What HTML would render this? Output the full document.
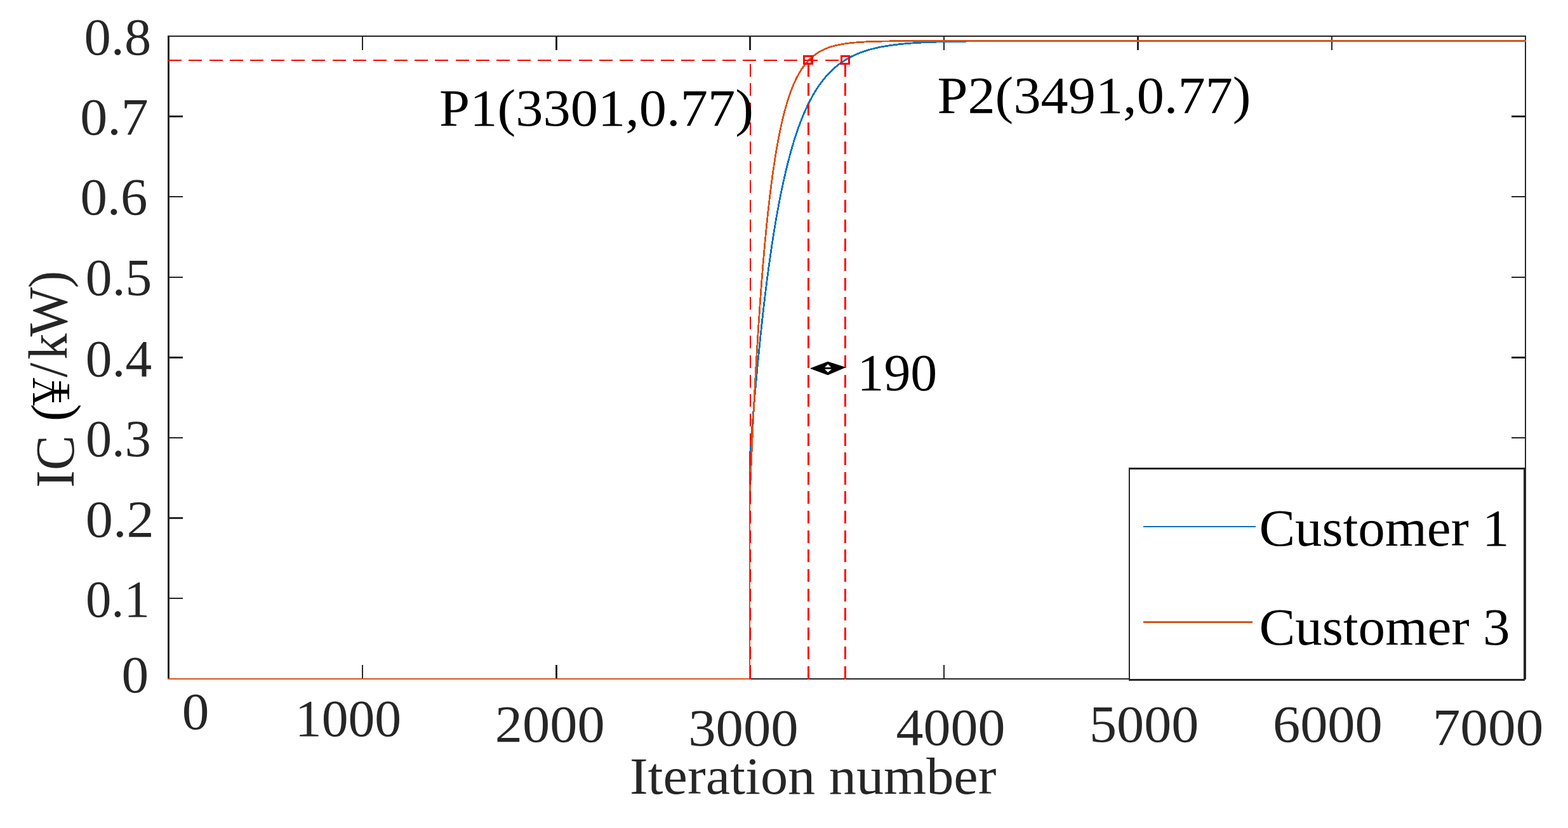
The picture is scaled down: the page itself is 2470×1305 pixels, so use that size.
<!DOCTYPE html>
<html lang="en"><head><meta charset="utf-8"><title>IC versus iteration number</title>
<style>html,body{margin:0;padding:0;background:#fff}body{width:2470px;height:1305px;overflow:hidden}svg{display:block}text{font-family:"Liberation Serif",serif;white-space:pre}</style>
</head><body>
<svg width="2470" height="1305" viewBox="0 0 2470 1305">
<rect x="0" y="0" width="2470" height="1305" fill="#fff"/>
<g fill="#262626" shape-rendering="crispEdges">
<rect x="264" y="56" width="3" height="1015"/>
<rect x="2402" y="56" width="2" height="1015"/>
<rect x="264" y="56" width="2140" height="2"/>
<rect x="264" y="1069" width="2140" height="2"/>
</g>
<g stroke="#262626" fill="none" stroke-linecap="butt" stroke-width="2.6" shape-rendering="crispEdges">
<path d="M570.89 1070.0 V1048.0 M570.89 57.0 V78.6 M876.27 1070.0 V1048.0 M876.27 57.0 V78.6 M1181.66 1070.0 V1048.0 M1181.66 57.0 V78.6 M1487.04 1070.0 V1048.0 M1487.04 57.0 V78.6 M1792.43 1070.0 V1048.0 M1792.43 57.0 V78.6 M2097.81 1070.0 V1048.0 M2097.81 57.0 V78.6"/>
<path d="M265.5 943.10 H288.0 M2403.0 943.10 H2380.5 M265.5 816.69 H288.0 M2403.0 816.69 H2380.5 M265.5 690.07 H288.0 M2403.0 690.07 H2380.5 M265.5 563.44 H288.0 M2403.0 563.44 H2380.5 M265.5 436.81 H288.0 M2403.0 436.81 H2380.5 M265.5 310.19 H288.0 M2403.0 310.19 H2380.5 M265.5 183.56 H288.0 M2403.0 183.56 H2380.5"/>
</g>
<g fill="none" stroke-width="2.8" stroke-linejoin="round" shape-rendering="crispEdges">
<path d="M1181.00 1070.00 L1181.00 723.00 L1181.50 716.29 L1182.00 709.64 L1182.50 703.07 L1183.00 696.56 L1183.50 690.11 L1184.00 683.74 L1184.50 677.43 L1185.00 671.18 L1185.50 664.99 L1186.00 658.87 L1186.50 652.81 L1187.00 646.82 L1187.50 640.88 L1188.00 635.00 L1188.50 629.19 L1189.00 623.43 L1189.50 617.74 L1190.00 612.10 L1190.50 606.51 L1191.00 600.99 L1191.50 595.52 L1192.00 590.11 L1192.50 584.75 L1193.00 579.45 L1193.50 574.20 L1194.00 569.00 L1194.50 563.86 L1195.00 558.77 L1195.50 553.73 L1196.00 548.74 L1196.50 543.81 L1197.00 538.92 L1197.50 534.09 L1198.00 529.30 L1198.50 524.56 L1199.00 519.87 L1199.50 515.23 L1200.00 510.63 L1200.50 506.09 L1201.00 501.59 L1201.50 497.13 L1202.00 492.72 L1202.50 488.35 L1203.00 484.03 L1203.50 479.76 L1204.00 475.52 L1204.50 471.33 L1205.00 467.19 L1205.50 463.08 L1206.00 459.02 L1206.50 455.00 L1207.00 451.02 L1207.50 447.08 L1208.00 443.18 L1208.50 439.32 L1209.00 435.50 L1209.50 431.72 L1210.00 427.97 L1210.50 424.27 L1211.00 420.60 L1211.50 416.97 L1212.00 413.38 L1212.50 409.82 L1213.00 406.30 L1213.50 402.82 L1214.00 399.37 L1214.50 395.95 L1215.00 392.58 L1215.50 389.23 L1216.00 385.92 L1216.50 382.64 L1217.00 379.40 L1217.50 376.19 L1218.00 373.01 L1218.50 369.87 L1219.00 366.76 L1219.50 363.68 L1220.00 360.63 L1220.50 357.61 L1221.00 354.62 L1221.50 351.66 L1222.00 348.73 L1222.50 345.84 L1223.00 342.97 L1223.50 340.13 L1224.00 337.32 L1224.50 334.54 L1225.00 331.79 L1225.50 329.06 L1226.00 326.37 L1226.50 323.70 L1227.00 321.05 L1227.50 318.44 L1228.00 315.85 L1228.50 313.29 L1229.00 310.75 L1229.50 308.24 L1230.00 305.76 L1230.50 303.30 L1231.00 300.86 L1231.50 298.45 L1232.00 296.07 L1232.50 293.71 L1233.00 291.37 L1233.50 289.06 L1234.00 286.77 L1234.50 284.51 L1235.00 282.26 L1235.50 280.04 L1236.00 277.85 L1236.50 275.67 L1237.00 273.52 L1237.50 271.39 L1238.00 269.28 L1238.50 267.19 L1239.00 265.13 L1239.50 263.08 L1240.00 261.06 L1240.50 259.05 L1241.00 257.07 L1241.50 255.11 L1242.00 253.16 L1242.50 251.24 L1243.00 249.34 L1243.50 247.45 L1244.00 245.59 L1244.50 243.74 L1245.00 241.91 L1245.50 240.11 L1246.00 238.32 L1246.50 236.54 L1247.00 234.79 L1247.50 233.05 L1248.00 231.34 L1248.50 229.64 L1249.00 227.95 L1249.50 226.29 L1250.00 224.64 L1250.50 223.00 L1251.00 221.39 L1251.50 219.79 L1252.00 218.21 L1252.50 216.64 L1253.00 215.09 L1253.50 213.55 L1254.00 212.03 L1254.50 210.53 L1255.00 209.04 L1255.50 207.57 L1256.00 206.11 L1256.50 204.67 L1257.00 203.24 L1257.50 201.82 L1258.00 200.42 L1258.50 199.04 L1259.00 197.67 L1259.50 196.31 L1260.00 194.97 L1260.50 193.64 L1261.00 192.32 L1261.50 191.02 L1262.00 189.73 L1262.50 188.45 L1263.00 187.19 L1263.50 185.94 L1264.00 184.70 L1264.50 183.47 L1265.00 182.26 L1265.50 181.06 L1266.00 179.87 L1266.50 178.70 L1267.00 177.53 L1267.50 176.38 L1268.00 175.24 L1268.50 174.11 L1269.00 172.99 L1269.50 171.89 L1270.00 170.79 L1270.50 169.71 L1271.00 168.64 L1271.50 167.57 L1272.00 166.52 L1272.50 165.48 L1273.00 164.45 L1273.50 163.44 L1274.00 162.43 L1274.50 161.43 L1275.00 160.44 L1275.50 159.46 L1276.00 158.50 L1276.50 157.54 L1277.00 156.59 L1277.50 155.65 L1278.00 154.72 L1278.50 153.80 L1279.00 152.89 L1279.50 151.99 L1280.00 151.10 L1280.50 150.22 L1281.00 149.34 L1281.50 148.48 L1282.00 147.62 L1282.50 146.77 L1283.00 145.93 L1283.50 145.10 L1284.00 144.28 L1284.50 143.47 L1285.00 142.66 L1285.50 141.87 L1286.00 141.08 L1286.50 140.30 L1287.00 139.53 L1287.50 138.76 L1288.00 138.00 L1288.50 137.25 L1289.00 136.51 L1289.50 135.78 L1290.00 135.05 L1290.50 134.33 L1291.00 133.62 L1291.50 132.92 L1292.00 132.22 L1292.50 131.53 L1293.00 130.85 L1293.50 130.17 L1294.00 129.50 L1294.50 128.84 L1295.00 128.18 L1295.50 127.53 L1296.00 126.89 L1296.50 126.25 L1297.00 125.62 L1297.50 125.00 L1298.00 124.38 L1298.50 123.77 L1299.00 123.17 L1299.50 122.57 L1300.00 121.98 L1300.50 121.39 L1301.00 120.81 L1301.50 120.24 L1302.00 119.67 L1302.50 119.11 L1303.00 118.55 L1303.50 118.00 L1304.00 117.46 L1304.50 116.92 L1305.00 116.38 L1305.50 115.85 L1306.00 115.33 L1306.50 114.81 L1307.00 114.30 L1307.50 113.79 L1308.00 113.29 L1308.50 112.79 L1309.00 112.30 L1309.50 111.81 L1310.00 111.33 L1310.50 110.85 L1311.00 110.38 L1311.50 109.91 L1312.00 109.45 L1312.50 108.99 L1313.00 108.54 L1313.50 108.09 L1314.00 107.64 L1314.50 107.20 L1315.00 106.77 L1315.50 106.34 L1316.00 105.91 L1316.50 105.49 L1317.00 105.07 L1317.50 104.66 L1318.00 104.25 L1318.50 103.84 L1319.00 103.44 L1319.50 103.05 L1320.00 102.65 L1320.50 102.26 L1321.00 101.88 L1321.50 101.50 L1322.00 101.12 L1322.50 100.75 L1323.00 100.38 L1323.50 100.01 L1324.00 99.65 L1324.50 99.29 L1325.00 98.94 L1325.50 98.59 L1326.00 98.24 L1326.50 97.90 L1327.00 97.55 L1327.50 97.22 L1328.00 96.88 L1328.50 96.55 L1329.00 96.23 L1329.50 95.90 L1330.00 95.58 L1330.50 95.27 L1331.00 94.95 L1331.50 94.64 L1332.00 94.34 L1332.50 94.03 L1333.00 93.73 L1333.50 93.43 L1334.00 93.14 L1334.50 92.85 L1335.00 92.56 L1335.50 92.27 L1336.00 91.99 L1336.50 91.71 L1337.00 91.43 L1337.50 91.16 L1338.00 90.88 L1338.50 90.61 L1339.00 90.35 L1339.50 90.09 L1340.00 89.82 L1340.50 89.57 L1341.00 89.31 L1341.50 89.06 L1342.00 88.81 L1342.50 88.56 L1343.00 88.31 L1343.50 88.07 L1344.00 87.83 L1344.50 87.59 L1345.00 87.36 L1345.50 87.13 L1346.00 86.89 L1346.50 86.67 L1347.00 86.44 L1347.50 86.22 L1348.00 86.00 L1348.50 85.78 L1349.00 85.56 L1349.50 85.34 L1350.00 85.13 L1350.50 84.92 L1351.00 84.71 L1351.50 84.51 L1352.00 84.30 L1352.50 84.10 L1353.00 83.90 L1353.50 83.70 L1354.00 83.51 L1354.50 83.31 L1355.00 83.12 L1355.50 82.93 L1356.00 82.75 L1356.50 82.56 L1357.00 82.38 L1357.50 82.19 L1358.00 82.01 L1358.50 81.83 L1359.00 81.66 L1359.50 81.48 L1360.00 81.31 L1360.50 81.14 L1361.00 80.97 L1361.50 80.80 L1362.00 80.63 L1362.50 80.47 L1363.00 80.31 L1363.50 80.15 L1364.00 79.99 L1364.50 79.83 L1365.00 79.67 L1365.50 79.52 L1366.00 79.36 L1366.50 79.21 L1367.00 79.06 L1367.50 78.91 L1368.00 78.77 L1368.50 78.62 L1369.00 78.48 L1369.50 78.34 L1370.00 78.19 L1370.50 78.06 L1371.00 77.92 L1371.50 77.78 L1372.00 77.64 L1372.50 77.51 L1373.00 77.38 L1373.50 77.25 L1374.00 77.12 L1374.50 76.99 L1375.00 76.86 L1375.50 76.74 L1376.00 76.61 L1376.50 76.49 L1377.00 76.36 L1377.50 76.24 L1378.00 76.12 L1378.50 76.01 L1379.00 75.89 L1379.50 75.77 L1380.00 75.66 L1380.50 75.54 L1381.00 75.43 L1381.50 75.32 L1382.00 75.21 L1382.50 75.10 L1383.00 74.99 L1383.50 74.89 L1384.00 74.78 L1384.50 74.67 L1385.00 74.57 L1385.50 74.47 L1386.00 74.37 L1386.50 74.27 L1387.00 74.17 L1387.50 74.07 L1388.00 73.97 L1388.50 73.87 L1389.00 73.78 L1389.50 73.68 L1390.00 73.59 L1390.50 73.50 L1391.00 73.41 L1391.50 73.31 L1392.00 73.23 L1392.50 73.14 L1393.00 73.05 L1393.50 72.96 L1394.00 72.87 L1394.50 72.79 L1395.00 72.70 L1395.50 72.62 L1396.00 72.54 L1396.50 72.46 L1397.00 72.38 L1397.50 72.30 L1398.00 72.22 L1398.50 72.14 L1399.00 72.06 L1399.50 71.98 L1400.00 71.91 L1400.50 71.83 L1401.00 71.76 L1401.50 71.68 L1402.00 71.61 L1402.50 71.54 L1403.00 71.46 L1403.50 71.39 L1404.00 71.32 L1404.50 71.25 L1405.00 71.18 L1405.50 71.12 L1406.00 71.05 L1406.50 70.98 L1407.00 70.92 L1407.50 70.85 L1408.00 70.79 L1408.50 70.72 L1409.00 70.66 L1409.50 70.60 L1410.00 70.53 L1410.50 70.47 L1411.00 70.41 L1411.50 70.35 L1412.00 70.29 L1412.50 70.23 L1413.00 70.17 L1413.50 70.12 L1414.00 70.06 L1414.50 70.00 L1415.00 69.95 L1415.50 69.89 L1416.00 69.84 L1416.50 69.78 L1417.00 69.73 L1417.50 69.67 L1418.00 69.62 L1418.50 69.57 L1419.00 69.52 L1419.50 69.47 L1420.00 69.42 L1420.50 69.37 L1421.00 69.32 L1421.50 69.27 L1422.00 69.22 L1422.50 69.17 L1423.00 69.12 L1423.50 69.08 L1424.00 69.03 L1424.50 68.98 L1425.00 68.94 L1425.50 68.89 L1426.00 68.85 L1426.50 68.80 L1427.00 68.76 L1427.50 68.72 L1428.00 68.67 L1428.50 68.63 L1429.00 68.59 L1429.50 68.55 L1430.00 68.50 L1430.50 68.46 L1431.00 68.42 L1435.00 68.11 L1439.00 67.83 L1443.00 67.57 L1447.00 67.33 L1451.00 67.10 L1455.00 66.90 L1459.00 66.71 L1463.00 66.54 L1467.00 66.38 L1471.00 66.23 L1475.00 66.09 L1479.00 65.97 L1483.00 65.85 L1487.00 65.75 L1491.00 65.65 L1495.00 65.56 L1499.00 65.47 L1503.00 65.40 L1507.00 65.33 L1511.00 65.26 L1515.00 65.20 L1519.00 65.15 L1523.00 65.10 L1527.00 65.05 L1531.00 65.01 L1535.00 64.97 L1539.00 64.93 L1543.00 64.90 L1547.00 64.86 L1551.00 64.84 L1555.00 64.81 L1559.00 64.78 L1563.00 64.76 L1567.00 64.74 L1571.00 64.72 L1575.00 64.71 L1579.00 64.69 L1583.00 64.67 L1587.00 64.66 L1591.00 64.65 L1595.00 64.64 L1599.00 64.63 L1603.00 64.62 L1607.00 64.61 L1611.00 64.60 L1615.00 64.59 L1619.00 64.58 L1623.00 64.58 L1627.00 64.57 L1631.00 64.57 L1635.00 64.56 L1639.00 64.56 L1643.00 64.55 L1647.00 64.55 L1651.00 64.54 L1655.00 64.54 L1659.00 64.54 L1663.00 64.53 L1667.00 64.53 L1671.00 64.53 L1675.00 64.53 L1679.00 64.52 L1683.00 64.52 L1687.00 64.52 L1691.00 64.52 L1695.00 64.52 L1699.00 64.52 L1703.00 64.51 L1707.00 64.51 L1711.00 64.51 L1715.00 64.51 L1719.00 64.51 L1723.00 64.51 L1727.00 64.51 L1731.00 64.51 L1735.00 64.51 L1739.00 64.51 L1743.00 64.51 L1747.00 64.51 L1751.00 64.51 L1755.00 64.51 L1759.00 64.50 L1763.00 64.50 L1767.00 64.50 L1771.00 64.50 L1775.00 64.50 L1779.00 64.50 L1783.00 64.50 L1787.00 64.50 L1791.00 64.50 L1795.00 64.50 L1799.00 64.50 L1803.00 64.50 L1807.00 64.50 L1811.00 64.50 L1815.00 64.50 L1819.00 64.50 L1823.00 64.50 L1827.00 64.50 L1831.00 64.50 L1835.00 64.50 L1839.00 64.50 L1843.00 64.50 L1847.00 64.50 L1851.00 64.50 L1855.00 64.50 L1859.00 64.50 L1863.00 64.50 L1867.00 64.50 L1871.00 64.50 L1875.00 64.50 L1879.00 64.50 L1883.00 64.50 L1887.00 64.50 L1891.00 64.50 L1895.00 64.50 L1899.00 64.50 L1903.00 64.50 L1907.00 64.50 L1911.00 64.50 L1915.00 64.50 L1919.00 64.50 L1923.00 64.50 L1927.00 64.50 L1931.00 64.50 L1935.00 64.50 L1939.00 64.50 L1943.00 64.50 L1947.00 64.50 L1951.00 64.50 L1955.00 64.50 L1959.00 64.50 L1963.00 64.50 L1967.00 64.50 L1971.00 64.50 L1975.00 64.50 L1979.00 64.50 L1983.00 64.50 L1987.00 64.50 L1991.00 64.50 L1995.00 64.50 L1999.00 64.50 L2003.00 64.50 L2007.00 64.50 L2011.00 64.50 L2015.00 64.50 L2019.00 64.50 L2023.00 64.50 L2027.00 64.50 L2031.00 64.50 L2035.00 64.50 L2039.00 64.50 L2043.00 64.50 L2047.00 64.50 L2051.00 64.50 L2055.00 64.50 L2059.00 64.50 L2063.00 64.50 L2067.00 64.50 L2071.00 64.50 L2075.00 64.50 L2079.00 64.50 L2083.00 64.50 L2087.00 64.50 L2091.00 64.50 L2095.00 64.50 L2099.00 64.50 L2103.00 64.50 L2107.00 64.50 L2111.00 64.50 L2115.00 64.50 L2119.00 64.50 L2123.00 64.50 L2127.00 64.50 L2131.00 64.50 L2135.00 64.50 L2139.00 64.50 L2143.00 64.50 L2147.00 64.50 L2151.00 64.50 L2155.00 64.50 L2159.00 64.50 L2163.00 64.50 L2167.00 64.50 L2171.00 64.50 L2175.00 64.50 L2179.00 64.50 L2183.00 64.50 L2187.00 64.50 L2191.00 64.50 L2195.00 64.50 L2199.00 64.50 L2203.00 64.50 L2207.00 64.50 L2211.00 64.50 L2215.00 64.50 L2219.00 64.50 L2223.00 64.50 L2227.00 64.50 L2231.00 64.50 L2235.00 64.50 L2239.00 64.50 L2243.00 64.50 L2247.00 64.50 L2251.00 64.50 L2255.00 64.50 L2259.00 64.50 L2263.00 64.50 L2267.00 64.50 L2271.00 64.50 L2275.00 64.50 L2279.00 64.50 L2283.00 64.50 L2287.00 64.50 L2291.00 64.50 L2295.00 64.50 L2299.00 64.50 L2303.00 64.50 L2307.00 64.50 L2311.00 64.50 L2315.00 64.50 L2319.00 64.50 L2323.00 64.50 L2327.00 64.50 L2331.00 64.50 L2335.00 64.50 L2339.00 64.50 L2343.00 64.50 L2347.00 64.50 L2351.00 64.50 L2355.00 64.50 L2359.00 64.50 L2363.00 64.50 L2367.00 64.50 L2371.00 64.50 L2375.00 64.50 L2379.00 64.50 L2383.00 64.50 L2387.00 64.50 L2391.00 64.50 L2395.00 64.50 L2399.00 64.50 L2403.00 64.50 L2404.00 64.50" stroke="#0072BD"/>
<path d="M1181.00 1070.00 L1181.00 800.00 L1181.80 764.50 L1182.30 752.70 L1182.80 741.09 L1183.30 729.68 L1183.80 718.46 L1184.30 707.44 L1184.80 696.59 L1185.30 685.94 L1185.80 675.46 L1186.30 665.15 L1186.80 655.03 L1187.30 645.07 L1187.80 635.28 L1188.30 625.65 L1188.80 616.19 L1189.30 606.89 L1189.80 597.74 L1190.30 588.75 L1190.80 579.91 L1191.30 571.22 L1191.80 562.67 L1192.30 554.27 L1192.80 546.01 L1193.30 537.89 L1193.80 529.91 L1194.30 522.06 L1194.80 514.35 L1195.30 506.76 L1195.80 499.30 L1196.30 491.97 L1196.80 484.76 L1197.30 477.67 L1197.80 470.71 L1198.30 463.86 L1198.80 457.12 L1199.30 450.50 L1199.80 443.99 L1200.30 437.59 L1200.80 431.30 L1201.30 425.12 L1201.80 419.04 L1202.30 413.06 L1202.80 407.18 L1203.30 401.40 L1203.80 395.72 L1204.30 390.13 L1204.80 384.64 L1205.30 379.24 L1205.80 373.94 L1206.30 368.72 L1206.80 363.59 L1207.30 358.55 L1207.80 353.59 L1208.30 348.71 L1208.80 343.92 L1209.30 339.21 L1209.80 334.57 L1210.30 330.02 L1210.80 325.54 L1211.30 321.14 L1211.80 316.81 L1212.30 312.56 L1212.80 308.38 L1213.30 304.26 L1213.80 300.22 L1214.30 296.25 L1214.80 292.34 L1215.30 288.50 L1215.80 284.72 L1216.30 281.00 L1216.80 277.35 L1217.30 273.76 L1217.80 270.24 L1218.30 266.77 L1218.80 263.36 L1219.30 260.00 L1219.80 256.71 L1220.30 253.46 L1220.80 250.28 L1221.30 247.14 L1221.80 244.06 L1222.30 241.04 L1222.80 238.06 L1223.30 235.13 L1223.80 232.26 L1224.30 229.43 L1224.80 226.65 L1225.30 223.91 L1225.80 221.22 L1226.30 218.58 L1226.80 215.98 L1227.30 213.43 L1227.80 210.92 L1228.30 208.45 L1228.80 206.02 L1229.30 203.63 L1229.80 201.29 L1230.30 198.98 L1230.80 196.71 L1231.30 194.48 L1231.80 192.29 L1232.30 190.14 L1232.80 188.02 L1233.30 185.94 L1233.80 183.89 L1234.30 181.87 L1234.80 179.89 L1235.30 177.95 L1235.80 176.04 L1236.30 174.15 L1236.80 172.31 L1237.30 170.49 L1237.80 168.70 L1238.30 166.94 L1238.80 165.22 L1239.30 163.52 L1239.80 161.85 L1240.30 160.21 L1240.80 158.59 L1241.30 157.01 L1241.80 155.45 L1242.30 153.91 L1242.80 152.40 L1243.30 150.92 L1243.80 149.46 L1244.30 148.03 L1244.80 146.62 L1245.30 145.24 L1245.80 143.88 L1246.30 142.54 L1246.80 141.22 L1247.30 139.93 L1247.80 138.66 L1248.30 137.41 L1248.80 136.18 L1249.30 134.97 L1249.80 133.78 L1250.30 132.61 L1250.80 131.46 L1251.30 130.33 L1251.80 129.22 L1252.30 128.13 L1252.80 127.06 L1253.30 126.00 L1253.80 124.97 L1254.30 123.95 L1254.80 122.95 L1255.30 121.96 L1255.80 120.99 L1256.30 120.04 L1256.80 119.10 L1257.30 118.18 L1257.80 117.28 L1258.30 116.39 L1258.80 115.51 L1259.30 114.65 L1259.80 113.80 L1260.30 112.97 L1260.80 112.16 L1261.30 111.35 L1261.80 110.56 L1262.30 109.79 L1262.80 109.02 L1263.30 108.27 L1263.80 107.53 L1264.30 106.81 L1264.80 106.09 L1265.30 105.39 L1265.80 104.70 L1266.30 104.02 L1266.80 103.36 L1267.30 102.70 L1267.80 102.06 L1268.30 101.43 L1268.80 100.80 L1269.30 100.19 L1269.80 99.59 L1270.30 99.00 L1270.80 98.42 L1271.30 97.84 L1271.80 97.28 L1272.30 96.73 L1272.80 96.18 L1273.30 95.65 L1273.80 95.13 L1274.30 94.61 L1274.80 94.10 L1275.30 93.60 L1275.80 93.11 L1276.30 92.63 L1276.80 92.15 L1277.30 91.69 L1277.80 91.23 L1278.30 90.78 L1278.80 90.34 L1279.30 89.90 L1279.80 89.47 L1280.30 89.05 L1280.80 88.64 L1281.30 88.23 L1281.80 87.83 L1282.30 87.44 L1282.80 87.05 L1283.30 86.67 L1283.80 86.30 L1284.30 85.93 L1284.80 85.57 L1285.30 85.21 L1285.80 84.86 L1286.30 84.52 L1286.80 84.18 L1287.30 83.85 L1287.80 83.52 L1288.30 83.20 L1288.80 82.89 L1289.30 82.58 L1289.80 82.27 L1290.30 81.97 L1290.80 81.68 L1291.30 81.39 L1291.80 81.10 L1292.30 80.82 L1292.80 80.55 L1293.30 80.28 L1293.80 80.01 L1294.30 79.75 L1294.80 79.49 L1295.30 79.24 L1295.80 78.99 L1296.30 78.75 L1296.80 78.51 L1297.30 78.27 L1297.80 78.04 L1298.30 77.81 L1298.80 77.59 L1299.30 77.36 L1299.80 77.15 L1300.30 76.93 L1300.80 76.72 L1301.30 76.52 L1301.80 76.32 L1302.30 76.12 L1302.80 75.92 L1303.30 75.73 L1303.80 75.54 L1304.30 75.35 L1304.80 75.17 L1305.30 74.99 L1305.80 74.81 L1306.30 74.64 L1306.80 74.47 L1307.30 74.30 L1307.80 74.13 L1308.30 73.97 L1308.80 73.81 L1309.30 73.66 L1309.80 73.50 L1310.30 73.35 L1310.80 73.20 L1311.30 73.05 L1311.80 72.91 L1312.30 72.77 L1312.80 72.63 L1313.30 72.49 L1313.80 72.36 L1314.30 72.22 L1314.80 72.09 L1315.30 71.97 L1315.80 71.84 L1316.30 71.72 L1316.80 71.59 L1317.30 71.47 L1317.80 71.36 L1318.30 71.24 L1318.80 71.13 L1319.30 71.02 L1319.80 70.91 L1320.30 70.80 L1320.80 70.69 L1321.30 70.59 L1321.80 70.48 L1322.30 70.38 L1322.80 70.28 L1323.30 70.19 L1323.80 70.09 L1324.30 70.00 L1324.80 69.90 L1325.30 69.81 L1325.80 69.72 L1326.30 69.64 L1326.80 69.55 L1327.30 69.46 L1327.80 69.38 L1328.30 69.30 L1328.80 69.22 L1329.30 69.14 L1329.80 69.06 L1330.30 68.98 L1330.80 68.91 L1331.30 68.83 L1331.80 68.76 L1332.30 68.69 L1332.80 68.62 L1333.30 68.55 L1333.80 68.48 L1334.30 68.41 L1334.80 68.35 L1335.30 68.28 L1335.80 68.22 L1336.30 68.15 L1336.80 68.09 L1337.30 68.03 L1337.80 67.97 L1338.30 67.91 L1338.80 67.86 L1339.30 67.80 L1339.80 67.74 L1340.30 67.69 L1340.80 67.64 L1341.30 67.58 L1341.80 67.53 L1342.30 67.48 L1342.80 67.43 L1343.30 67.38 L1343.80 67.33 L1344.30 67.28 L1344.80 67.24 L1345.30 67.19 L1345.80 67.15 L1346.30 67.10 L1346.80 67.06 L1347.30 67.01 L1347.80 66.97 L1348.30 66.93 L1348.80 66.89 L1349.30 66.85 L1349.80 66.81 L1350.30 66.77 L1350.80 66.73 L1351.30 66.69 L1351.80 66.66 L1352.30 66.62 L1352.80 66.58 L1353.30 66.55 L1353.80 66.52 L1354.30 66.48 L1354.80 66.45 L1355.30 66.42 L1355.80 66.38 L1356.30 66.35 L1356.80 66.32 L1357.30 66.29 L1357.80 66.26 L1358.30 66.23 L1358.80 66.20 L1359.30 66.17 L1359.80 66.14 L1360.30 66.12 L1360.80 66.09 L1361.30 66.06 L1361.80 66.04 L1362.30 66.01 L1362.80 65.98 L1363.30 65.96 L1363.80 65.93 L1364.30 65.91 L1364.80 65.89 L1365.30 65.86 L1365.80 65.84 L1366.30 65.82 L1366.80 65.80 L1367.30 65.77 L1367.80 65.75 L1368.30 65.73 L1368.80 65.71 L1369.30 65.69 L1369.80 65.67 L1370.30 65.65 L1370.80 65.63 L1371.30 65.61 L1371.80 65.59 L1372.30 65.57 L1372.80 65.56 L1373.30 65.54 L1373.80 65.52 L1374.30 65.50 L1374.80 65.49 L1375.30 65.47 L1375.80 65.45 L1376.30 65.44 L1376.80 65.42 L1377.30 65.41 L1377.80 65.39 L1378.30 65.38 L1378.80 65.36 L1379.30 65.35 L1379.80 65.33 L1380.30 65.32 L1380.80 65.30 L1381.30 65.29 L1381.80 65.28 L1382.30 65.26 L1382.80 65.25 L1383.30 65.24 L1383.80 65.23 L1384.30 65.21 L1384.80 65.20 L1385.30 65.19 L1385.80 65.18 L1386.30 65.17 L1386.80 65.16 L1387.30 65.14 L1387.80 65.13 L1388.30 65.12 L1388.80 65.11 L1389.30 65.10 L1389.80 65.09 L1390.30 65.08 L1390.80 65.07 L1391.30 65.06 L1391.80 65.05 L1392.30 65.04 L1392.80 65.03 L1393.30 65.03 L1393.80 65.02 L1394.30 65.01 L1394.80 65.00 L1395.30 64.99 L1395.80 64.98 L1396.30 64.97 L1396.80 64.97 L1397.30 64.96 L1397.80 64.95 L1398.30 64.94 L1398.80 64.94 L1399.30 64.93 L1399.80 64.92 L1400.30 64.91 L1400.80 64.91 L1401.30 64.90 L1401.80 64.89 L1402.30 64.89 L1402.80 64.88 L1403.30 64.87 L1403.80 64.87 L1404.30 64.86 L1404.80 64.86 L1405.30 64.85 L1405.80 64.84 L1406.30 64.84 L1406.80 64.83 L1407.30 64.83 L1407.80 64.82 L1408.30 64.82 L1408.80 64.81 L1409.30 64.81 L1409.80 64.80 L1410.30 64.79 L1410.80 64.79 L1411.30 64.79 L1411.80 64.78 L1412.30 64.78 L1412.80 64.77 L1413.30 64.77 L1413.80 64.76 L1414.30 64.76 L1414.80 64.75 L1415.30 64.75 L1415.80 64.74 L1416.30 64.74 L1416.80 64.74 L1417.30 64.73 L1417.80 64.73 L1418.30 64.72 L1418.80 64.72 L1419.30 64.72 L1419.80 64.71 L1420.30 64.71 L1420.80 64.71 L1421.30 64.70 L1421.80 64.70 L1422.30 64.70 L1422.80 64.69 L1423.30 64.69 L1423.80 64.69 L1424.30 64.68 L1424.80 64.68 L1425.30 64.68 L1425.80 64.67 L1426.30 64.67 L1426.80 64.67 L1427.30 64.67 L1427.80 64.66 L1428.30 64.66 L1428.80 64.66 L1429.30 64.65 L1429.80 64.65 L1430.30 64.65 L1430.80 64.65 L1431.30 64.64 L1431.80 64.64 L1435.80 64.62 L1439.80 64.61 L1443.80 64.59 L1447.80 64.58 L1451.80 64.57 L1455.80 64.56 L1459.80 64.55 L1463.80 64.55 L1467.80 64.54 L1471.80 64.54 L1475.80 64.53 L1479.80 64.53 L1483.80 64.52 L1487.80 64.52 L1491.80 64.52 L1495.80 64.52 L1499.80 64.51 L1503.80 64.51 L1507.80 64.51 L1511.80 64.51 L1515.80 64.51 L1519.80 64.51 L1523.80 64.51 L1527.80 64.51 L1531.80 64.50 L1535.80 64.50 L1539.80 64.50 L1543.80 64.50 L1547.80 64.50 L1551.80 64.50 L1555.80 64.50 L1559.80 64.50 L1563.80 64.50 L1567.80 64.50 L1571.80 64.50 L1575.80 64.50 L1579.80 64.50 L1583.80 64.50 L1587.80 64.50 L1591.80 64.50 L1595.80 64.50 L1599.80 64.50 L1603.80 64.50 L1607.80 64.50 L1611.80 64.50 L1615.80 64.50 L1619.80 64.50 L1623.80 64.50 L1627.80 64.50 L1631.80 64.50 L1635.80 64.50 L1639.80 64.50 L1643.80 64.50 L1647.80 64.50 L1651.80 64.50 L1655.80 64.50 L1659.80 64.50 L1663.80 64.50 L1667.80 64.50 L1671.80 64.50 L1675.80 64.50 L1679.80 64.50 L1683.80 64.50 L1687.80 64.50 L1691.80 64.50 L1695.80 64.50 L1699.80 64.50 L1703.80 64.50 L1707.80 64.50 L1711.80 64.50 L1715.80 64.50 L1719.80 64.50 L1723.80 64.50 L1727.80 64.50 L1731.80 64.50 L1735.80 64.50 L1739.80 64.50 L1743.80 64.50 L1747.80 64.50 L1751.80 64.50 L1755.80 64.50 L1759.80 64.50 L1763.80 64.50 L1767.80 64.50 L1771.80 64.50 L1775.80 64.50 L1779.80 64.50 L1783.80 64.50 L1787.80 64.50 L1791.80 64.50 L1795.80 64.50 L1799.80 64.50 L1803.80 64.50 L1807.80 64.50 L1811.80 64.50 L1815.80 64.50 L1819.80 64.50 L1823.80 64.50 L1827.80 64.50 L1831.80 64.50 L1835.80 64.50 L1839.80 64.50 L1843.80 64.50 L1847.80 64.50 L1851.80 64.50 L1855.80 64.50 L1859.80 64.50 L1863.80 64.50 L1867.80 64.50 L1871.80 64.50 L1875.80 64.50 L1879.80 64.50 L1883.80 64.50 L1887.80 64.50 L1891.80 64.50 L1895.80 64.50 L1899.80 64.50 L1903.80 64.50 L1907.80 64.50 L1911.80 64.50 L1915.80 64.50 L1919.80 64.50 L1923.80 64.50 L1927.80 64.50 L1931.80 64.50 L1935.80 64.50 L1939.80 64.50 L1943.80 64.50 L1947.80 64.50 L1951.80 64.50 L1955.80 64.50 L1959.80 64.50 L1963.80 64.50 L1967.80 64.50 L1971.80 64.50 L1975.80 64.50 L1979.80 64.50 L1983.80 64.50 L1987.80 64.50 L1991.80 64.50 L1995.80 64.50 L1999.80 64.50 L2003.80 64.50 L2007.80 64.50 L2011.80 64.50 L2015.80 64.50 L2019.80 64.50 L2023.80 64.50 L2027.80 64.50 L2031.80 64.50 L2035.80 64.50 L2039.80 64.50 L2043.80 64.50 L2047.80 64.50 L2051.80 64.50 L2055.80 64.50 L2059.80 64.50 L2063.80 64.50 L2067.80 64.50 L2071.80 64.50 L2075.80 64.50 L2079.80 64.50 L2083.80 64.50 L2087.80 64.50 L2091.80 64.50 L2095.80 64.50 L2099.80 64.50 L2103.80 64.50 L2107.80 64.50 L2111.80 64.50 L2115.80 64.50 L2119.80 64.50 L2123.80 64.50 L2127.80 64.50 L2131.80 64.50 L2135.80 64.50 L2139.80 64.50 L2143.80 64.50 L2147.80 64.50 L2151.80 64.50 L2155.80 64.50 L2159.80 64.50 L2163.80 64.50 L2167.80 64.50 L2171.80 64.50 L2175.80 64.50 L2179.80 64.50 L2183.80 64.50 L2187.80 64.50 L2191.80 64.50 L2195.80 64.50 L2199.80 64.50 L2203.80 64.50 L2207.80 64.50 L2211.80 64.50 L2215.80 64.50 L2219.80 64.50 L2223.80 64.50 L2227.80 64.50 L2231.80 64.50 L2235.80 64.50 L2239.80 64.50 L2243.80 64.50 L2247.80 64.50 L2251.80 64.50 L2255.80 64.50 L2259.80 64.50 L2263.80 64.50 L2267.80 64.50 L2271.80 64.50 L2275.80 64.50 L2279.80 64.50 L2283.80 64.50 L2287.80 64.50 L2291.80 64.50 L2295.80 64.50 L2299.80 64.50 L2303.80 64.50 L2307.80 64.50 L2311.80 64.50 L2315.80 64.50 L2319.80 64.50 L2323.80 64.50 L2327.80 64.50 L2331.80 64.50 L2335.80 64.50 L2339.80 64.50 L2343.80 64.50 L2347.80 64.50 L2351.80 64.50 L2355.80 64.50 L2359.80 64.50 L2363.80 64.50 L2367.80 64.50 L2371.80 64.50 L2375.80 64.50 L2379.80 64.50 L2383.80 64.50 L2387.80 64.50 L2391.80 64.50 L2395.80 64.50 L2399.80 64.50 L2403.80 64.50 L2404.00 64.50" stroke="#D95319"/>
</g>
<rect x="264" y="1069" width="918" height="2" fill="#D95319" shape-rendering="crispEdges"/>
<g fill="none" stroke="#FF0000" stroke-width="2.6" shape-rendering="crispEdges">
<path d="M265 95.0 H1331.5" stroke-dasharray="21 11.3333"/>
<path d="M1182 1071 V95.0" stroke-dasharray="21 10.625 20 10.625 20 10.625 20 10.625 20 10.625 20 10.625 20 10.625 20 10.625 20 10.625 20 10.625 20 10.625 20 10.625 20 10.625 20 10.625 20 10.625 20 10.625 20 10.625 20 10.625 20 10.625 20 10.625 20 10.625 20 10.625 20 10.625 20 10.625 20 10.625 20 10.625 20 10.625 20 10.625 20 10.625 20 10.625 20 10.625 20 10.625 20 10.625"/>
<path d="M1273.5 1071 V95.0" stroke-dasharray="21 10.625 20 10.625 20 10.625 20 10.625 20 10.625 20 10.625 20 10.625 20 10.625 20 10.625 20 10.625 20 10.625 20 10.625 20 10.625 20 10.625 20 10.625 20 10.625 20 10.625 20 10.625 20 10.625 20 10.625 20 10.625 20 10.625 20 10.625 20 10.625 20 10.625 20 10.625 20 10.625 20 10.625 20 10.625 20 10.625 20 10.625 20 10.625 20 10.625"/>
<path d="M1331.5 1071 V95.0" stroke-dasharray="21 10.625 20 10.625 20 10.625 20 10.625 20 10.625 20 10.625 20 10.625 20 10.625 20 10.625 20 10.625 20 10.625 20 10.625 20 10.625 20 10.625 20 10.625 20 10.625 20 10.625 20 10.625 20 10.625 20 10.625 20 10.625 20 10.625 20 10.625 20 10.625 20 10.625 20 10.625 20 10.625 20 10.625 20 10.625 20 10.625 20 10.625 20 10.625 20 10.625"/>
</g>
<path fill="#FF0000" fill-rule="evenodd" shape-rendering="crispEdges" d="M1265 87h16v15h-16z M1268 90h9v9h-9z M1324 87h15v15h-15z M1327 90h9v9h-9z"/>
<rect x="1778" y="737" width="624" height="336" fill="#fff"/>
<g fill="#262626" shape-rendering="crispEdges">
<rect x="1778" y="737" width="2" height="336"/>
<rect x="2400" y="737" width="2" height="336"/>
<rect x="1778" y="737" width="624" height="3"/>
<rect x="1778" y="1070" width="624" height="3"/>
</g>
<rect x="1801" y="829" width="177" height="2" fill="#0072BD" shape-rendering="crispEdges"/>
<rect x="1801" y="979" width="172" height="3" fill="#D95319" shape-rendering="crispEdges"/>
<polygon points="1276.9,580.7 1304.1,570.3 1331.2,579 1304.1,590.7" fill="#000" stroke="#000" stroke-width="1" stroke-linejoin="round"/>
<polygon points="1304.15,573.9 1299.1,579 1309.2,579" fill="#fff"/>
<polygon points="1299.1,581.8 1310.2,581.8 1304.15,587.1" fill="#fff"/>
<text transform="translate(132.53 85.76) scale(1.0236 1)" font-size="82.65" fill="#262626">0.8</text>
<text transform="translate(126.37 211.67) scale(1.0462 1)" font-size="82.21" fill="#262626">0.7</text>
<text transform="translate(126.42 337.76) scale(1.0273 1)" font-size="82.65" fill="#262626">0.6</text>
<text transform="translate(134.87 464.57) scale(1.0186 1)" font-size="82.06" fill="#262626">0.5</text>
<text transform="translate(134.87 592.96) scale(1.0068 1)" font-size="82.94" fill="#262626">0.4</text>
<text transform="translate(134.91 718.96) scale(0.9958 1)" font-size="82.65" fill="#262626">0.3</text>
<text transform="translate(134.76 845.67) scale(1.0509 1)" font-size="82.21" fill="#262626">0.2</text>
<text transform="translate(134.97 971.95) scale(0.9705 1)" font-size="83.24" fill="#262626">0.1</text>
<text transform="translate(191.60 1091.17) scale(1.0295 1)" font-size="82.96" fill="#262626">0</text>
<text transform="translate(286.80 1148.88) scale(1.0388 1)" font-size="82.22" fill="#262626">0</text>
<text transform="translate(464.77 1159.97) scale(1.0129 1)" font-size="82.67" fill="#262626">1000</text>
<text transform="translate(779.81 1169.17) scale(1.0435 1)" font-size="82.81" fill="#262626">2000</text>
<text transform="translate(1084.18 1174.87) scale(1.0474 1)" font-size="82.81" fill="#262626">3000</text>
<text transform="translate(1411.48 1174.17) scale(1.0326 1)" font-size="83.26" fill="#262626">4000</text>
<text transform="translate(1715.94 1169.17) scale(1.0414 1)" font-size="82.81" fill="#262626">5000</text>
<text transform="translate(2004.93 1169.17) scale(1.0415 1)" font-size="82.96" fill="#262626">6000</text>
<text transform="translate(2256.73 1174.17) scale(1.0557 1)" font-size="82.67" fill="#262626">7000</text>
<text transform="translate(991.88 1251.17) scale(1.0401 1)" font-size="82.98" fill="#262626">Iteration number</text>
<text transform="rotate(-90) scale(0.956 1)" font-size="86.3" fill="#262626"><tspan x="-804.15" y="115.80">I</tspan><tspan x="-775.33" y="115.80">C</tspan><tspan> </tspan><tspan x="-694.59" y="108.70" fill="#000">(</tspan><tspan x="-668.12" y="108.80" font-size="81.10" fill="#000" style="font-family:&quot;Noto Serif CJK SC&quot;,&quot;Liberation Serif&quot;,serif">¥</tspan><tspan x="-622.23" y="105.40">/</tspan><tspan x="-592.94" y="105.20">k</tspan><tspan x="-555.00" y="105.20">W</tspan><tspan x="-475.16" y="104.80">)</tspan></text>
<text transform="translate(692.11 197.91) scale(1.0508 1)" font-size="82.32" fill="#000">P1(3301,0.77)</text>
<text transform="translate(1476.41 178.01) scale(1.0492 1)" font-size="82.32" fill="#000">P2(3491,0.77)</text>
<text transform="translate(1350.46 615.07) scale(1.0080 1)" font-size="83.26" fill="#000">190</text>
<text transform="translate(1983.40 859.67) scale(1.0279 1)" font-size="82.68" fill="#000">Customer 1</text>
<text transform="translate(1983.39 1016.17) scale(1.0305 1)" font-size="82.68" fill="#000">Customer 3</text>
</svg></body></html>
